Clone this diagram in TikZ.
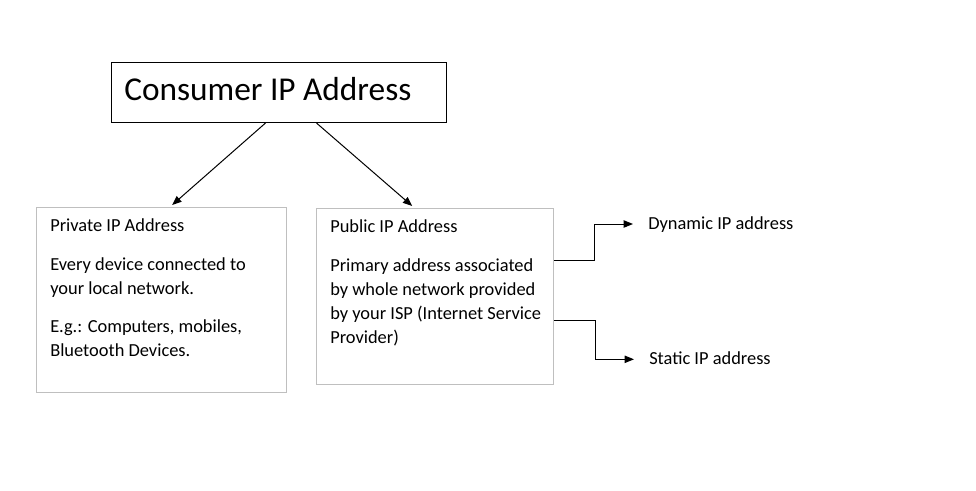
\documentclass[tikz,border=0pt]{standalone}
\usepackage{fontspec}
\setmainfont{Carlito}
\usetikzlibrary{arrows.meta}
\definecolor{boxgray}{RGB}{191,191,191}
\begin{document}
\begin{tikzpicture}[x=0.75pt,y=-0.75pt,
  frame/.style={draw=boxgray, line width=0.75pt, inner sep=0pt, anchor=north west},
  mainframe/.style={draw=black, line width=0.75pt, inner sep=0pt, anchor=north west},
  body/.style={anchor=north west, inner sep=0pt, align=left, font=\fontsize{13.8}{18}\selectfont},
  leaf/.style={anchor=west, inner xsep=11.25pt, inner ysep=0pt, text height=9.5pt, text depth=2pt, font=\fontsize{13.8}{18}\selectfont},
  arr/.style={draw=black, line width=0.75pt, -{Triangle[length=7pt,width=5.5pt]}}]
\fill[white] (0,0) rectangle (976,490);
\useasboundingbox (0,0) rectangle (976,490);
% boxes
\node[mainframe, minimum width=251.25pt, minimum height=45pt] (cons) at (111,62) {};
\node[anchor=base west, inner sep=0pt, font=\fontsize{25}{30}\selectfont] (constext) at (124,100.7) {Consumer IP Address};
\node[frame, minimum width=187.5pt, minimum height=138.75pt] (priv) at (36,207) {};
\node[body] (privtext) at (50,214.4) {\strut Private IP Address\\[10.9pt]
Every device connected to\\your local network.\\[10.9pt]
E.g.: Computers, mobiles,\\Bluetooth Devices.};
\node[frame, minimum width=177.75pt, minimum height=132pt] (pub) at (316,208) {};
\node[body] (pubtext) at (330,215.8) {\strut Public IP Address\\[10.9pt]
Primary address associated\\by whole network provided\\by your ISP (Internet Service\\Provider)};
\node[leaf] (dyn) at (633,224) {Dynamic IP address};
\node[leaf] (stat) at (634,359.3) {Static IP address};
% connectors
\draw[arr] ([xshift=-10.1pt]cons.south) -- ([xshift=8pt,yshift=1.5pt]priv.north);
\draw[arr] ([xshift=28.1pt]cons.south) -- ([xshift=-17.1pt,yshift=1.5pt]pub.north);
\draw[arr] ([yshift=27pt]pub.east) -- ++(30.4pt,0) |- (dyn.west);
\draw[arr] ([yshift=-18pt]pub.east) -- ++(31.1pt,0) |- (stat.west);
\end{tikzpicture}
\end{document}
